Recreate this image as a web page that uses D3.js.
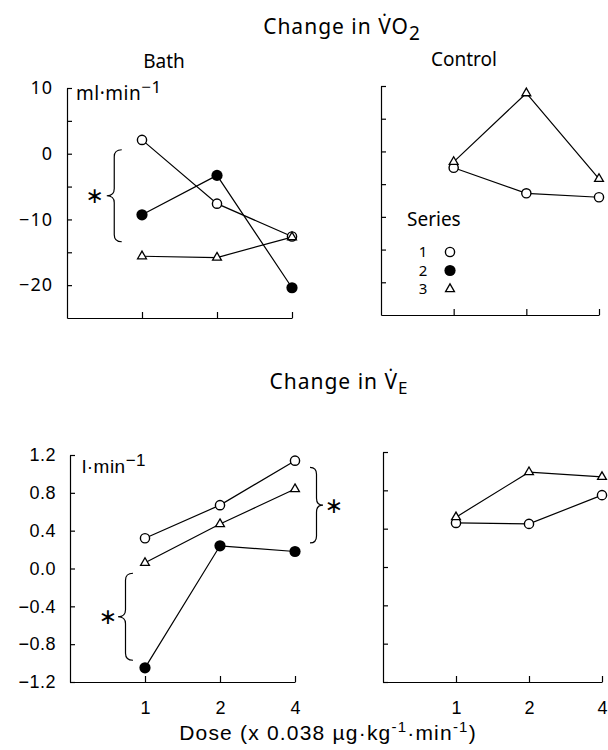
<!DOCTYPE html>
<html lang="en">
<head>
<meta charset="UTF-8">
<title>Change in VO2 and VE</title>
<script src="https://cdn.jsdelivr.net/npm/d3@7"></script>
<style>
    body { margin: 0; background: #fff; }
    svg text { fill: #000; }
    .geo { font-family: "Noto Sans", "DejaVu Sans", sans-serif; }
    .helv { font-family: "Liberation Sans", Arial, sans-serif; }
    .axis path, .axis line { stroke: #000; stroke-width: 1.2; }
</style>
</head>
<body>
<svg id="chart" width="608" height="750"></svg>
<script>
    // doses (x 0.038 ug/kg/min) and series
    const doses = [1, 2, 4];
    const seriesNames = ["1", "2", "3"];

    // change in VO2, ml/min
    const vo2Bath1 = [2.1, -7.6, -12.6];
    const vo2Bath2 = [-9.3, -3.3, -20.4];
    const vo2Bath3 = [-15.6, -15.8, -12.7];
    const vo2Ctrl1 = [-2.5, -6.4, -7.0];
    const vo2Ctrl3 = [-1.6, 8.9, -4.2];

    // change in VE, l/min
    const veBath1 = [0.32, 0.67, 1.14];
    const veBath2 = [-1.05, 0.24, 0.18];
    const veBath3 = [0.06, 0.47, 0.84];
    const veCtrl1 = [0.46, 0.45, 0.75];
    const veCtrl3 = [0.52, 0.99, 0.94];

    const vo2Ticks = [-20, -15, -10, -5, 0, 5, 10];
    const vo2Labels = [10, 0, -10, -20];
    const veTicks = [-1.2, -0.8, -0.4, 0, 0.4, 0.8, 1.2];

    const svg = d3.select("#chart");

    // one scale pair per panel
    function panel(x0, x1, yTop, yBot, yDomain) {
        return {
            x: d3.scaleLinear().domain([-1, 2]).range([x0, x1]),
            y: d3.scaleLinear().domain(yDomain).range([yBot, yTop])
        };
    }
    const pA = panel(67, 292, 88, 318, [-25, 10]);   // VO2 bath
    const pB = panel(381, 599, 86, 315, [-25, 10]);  // VO2 control
    const pC = panel(70, 295, 455, 682, [-1.2, 1.2]); // VE bath
    const pD = panel(383, 602, 452, 682, [-1.2, 1.2]); // VE control

    const lx = d => Math.log2(d);
    const minus = s => s.replace("-", "\u2212");

    function drawAxes(p, ticks, fmt, labelClass, xLabels, fs, ls) {
        const yAxis = d3.axisLeft(p.y)
            .tickValues(ticks)
            .tickSizeInner(-5)
            .tickSizeOuter(0)
            .tickPadding(14)
            .tickFormat(fmt);
        const gy = svg.append("g")
            .attr("class", "axis " + labelClass)
            .attr("transform", "translate(" + p.x.range()[0] + ",0)")
            .call(yAxis);
        gy.selectAll("text").attr("font-size", fs).attr("letter-spacing", ls);

        const xAxis = d3.axisBottom(p.x)
            .tickValues(doses.map(lx))
            .tickSizeInner(-6)
            .tickSizeOuter(0)
            .tickPadding(19)
            .tickFormat((d, i) => xLabels ? doses[i] : "");
        const gx = svg.append("g")
            .attr("class", "axis helv")
            .attr("transform", "translate(0," + p.y.range()[0] + ")")
            .call(xAxis);
        gx.selectAll("text").attr("font-size", 18);
    }

    drawAxes(pA, vo2Ticks, d => vo2Labels.includes(d) ? minus(String(d)) : "", "geo", false, 18, 1);
    drawAxes(pB, vo2Ticks, () => "", "geo", false, 18, 0);
    drawAxes(pC, veTicks, d => minus(d3.format(".1f")(d)).replace("\u22120.0", "0.0"), "helv", true, 18, 0.5);
    drawAxes(pD, veTicks, () => "", "helv", true, 18, 0);

    const line = p => d3.line().x((d, i) => p.x(lx(doses[i]))).y(d => p.y(d));

    function drawSeries(p, vals, kind) {
        svg.append("path")
            .datum(vals)
            .attr("d", line(p))
            .attr("fill", "none")
            .attr("stroke", "#000")
            .attr("stroke-width", 1.2);
        const g = svg.append("g");
        vals.forEach((v, i) => marker(g, p.x(lx(doses[i])), p.y(v), kind));
    }

    function marker(g, cx, cy, kind) {
        if (kind === "1") {
            g.append("circle").attr("cx", cx).attr("cy", cy).attr("r", 4.6)
                .attr("fill", "#fff").attr("stroke", "#000").attr("stroke-width", 1.4);
        } else if (kind === "2") {
            g.append("circle").attr("cx", cx).attr("cy", cy).attr("r", 5.6)
                .attr("fill", "#000");
        } else {
            g.append("path")
                .attr("d", d3.symbol().type(d3.symbolTriangle).size(34)())
                .attr("transform", "translate(" + cx + "," + cy + ")")
                .attr("fill", "#fff").attr("stroke", "#000").attr("stroke-width", 1.3);
        }
    }

    drawSeries(pA, vo2Bath1, "1");
    drawSeries(pA, vo2Bath2, "2");
    drawSeries(pA, vo2Bath3, "3");
    drawSeries(pB, vo2Ctrl1, "1");
    drawSeries(pB, vo2Ctrl3, "3");
    drawSeries(pC, veBath1, "1");
    drawSeries(pC, veBath2, "2");
    drawSeries(pC, veBath3, "3");
    drawSeries(pD, veCtrl1, "1");
    drawSeries(pD, veCtrl3, "3");

    // curly braces with asterisks
    function brace(x, y1, y2, w) {
        const ym = (y1 + y2) / 2, h = w / 2, r = 7;
        return "M" + x + "," + y1 +
            " Q" + (x + h) + "," + y1 + " " + (x + h) + "," + (y1 + r) +
            " L" + (x + h) + "," + (ym - r) +
            " Q" + (x + h) + "," + ym + " " + (x + w) + "," + ym +
            " Q" + (x + h) + "," + ym + " " + (x + h) + "," + (ym + r) +
            " L" + (x + h) + "," + (y2 - r) +
            " Q" + (x + h) + "," + y2 + " " + x + "," + y2;
    }
    const braces = [
        { x: pA.x(-0.27), y1: pA.y(0.6), y2: pA.y(-13.4), w: -15, sx: -27 },
        { x: pC.x(-0.16), y1: pC.y(-0.05), y2: pC.y(-0.97), w: -15, sx: -25 },
        { x: pC.x(2) + 15, y1: pC.y(1.07), y2: pC.y(0.27), w: 13, sx: 24 }
    ];
    braces.forEach(b => {
        svg.append("path")
            .attr("d", brace(b.x, b.y1, b.y2, b.w))
            .attr("fill", "none")
            .attr("stroke", "#000")
            .attr("stroke-width", 1.2);
        svg.append("text")
            .attr("font-family", "DejaVu Sans, sans-serif")
            .attr("x", b.x + b.sx)
            .attr("y", (b.y1 + b.y2) / 2)
            .attr("dominant-baseline", "central")
            .attr("text-anchor", "middle")
            .attr("font-size", 22)
            .text("\u2217");
    });

    // titles
    const t1 = svg.append("text").attr("class", "geo")
        .attr("x", 342).attr("y", 34).attr("text-anchor", "middle")
        .attr("font-size", 21).attr("letter-spacing", 1);
    t1.append("tspan").text("Change in V\u0307O");
    t1.append("tspan").attr("dy", 6).attr("font-size", 19).text("2");

    const t2 = svg.append("text").attr("class", "geo")
        .attr("x", 339).attr("y", 389).attr("text-anchor", "middle")
        .attr("font-size", 21).attr("letter-spacing", 1);
    t2.append("tspan").text("Change in V\u0307");
    t2.append("tspan").attr("dy", 5).attr("font-size", 17).text("E");

    svg.append("text").attr("class", "geo")
        .attr("x", 164).attr("y", 68).attr("text-anchor", "middle")
        .attr("font-size", 19).text("Bath");
    svg.append("text").attr("class", "geo")
        .attr("x", 464).attr("y", 66).attr("text-anchor", "middle")
        .attr("font-size", 19).text("Control");

    // unit labels
    const u1 = svg.append("text").attr("class", "geo")
        .attr("x", pA.x.range()[0] + 9).attr("y", pA.y(10) + 12)
        .attr("font-size", 19).attr("letter-spacing", 0.5);
    u1.append("tspan").text("ml\u00b7min");
    u1.append("tspan").attr("dy", -7).attr("font-size", 17).text("\u22121");

    const u2 = svg.append("text").attr("class", "helv")
        .attr("x", pC.x.range()[0] + 12).attr("y", pC.y(1.2) + 18)
        .attr("font-size", 19).attr("letter-spacing", 0.5);
    u2.append("tspan").text("l\u00b7min");
    u2.append("tspan").attr("dy", -7).attr("font-size", 17).text("\u22121");

    // legend
    const lg = svg.append("g").attr("transform", "translate(407,226)");
    lg.append("text").attr("class", "geo").attr("font-size", 19).text("Series");
    seriesNames.forEach((s, i) => {
        lg.append("text").attr("class", "geo")
            .attr("x", 16).attr("y", 31 + i * 18.5)
            .attr("text-anchor", "middle")
            .attr("font-size", 15).text(s);
        marker(lg, 43, 26 + i * 18.5, s);
    });

    // x axis title
    const xt = svg.append("text").attr("class", "helv")
        .attr("x", 328).attr("y", 740).attr("text-anchor", "middle")
        .attr("font-size", 21).attr("letter-spacing", 1.2);
    xt.append("tspan").text("Dose (x 0.038 \u00b5g\u00b7kg");
    xt.append("tspan").attr("dy", -8).attr("font-size", 15).text("-1");
    xt.append("tspan").attr("dy", 8).text("\u00b7min");
    xt.append("tspan").attr("dy", -8).attr("font-size", 15).text("-1");
    xt.append("tspan").attr("dy", 8).text(")");
</script>
</body>
</html>
